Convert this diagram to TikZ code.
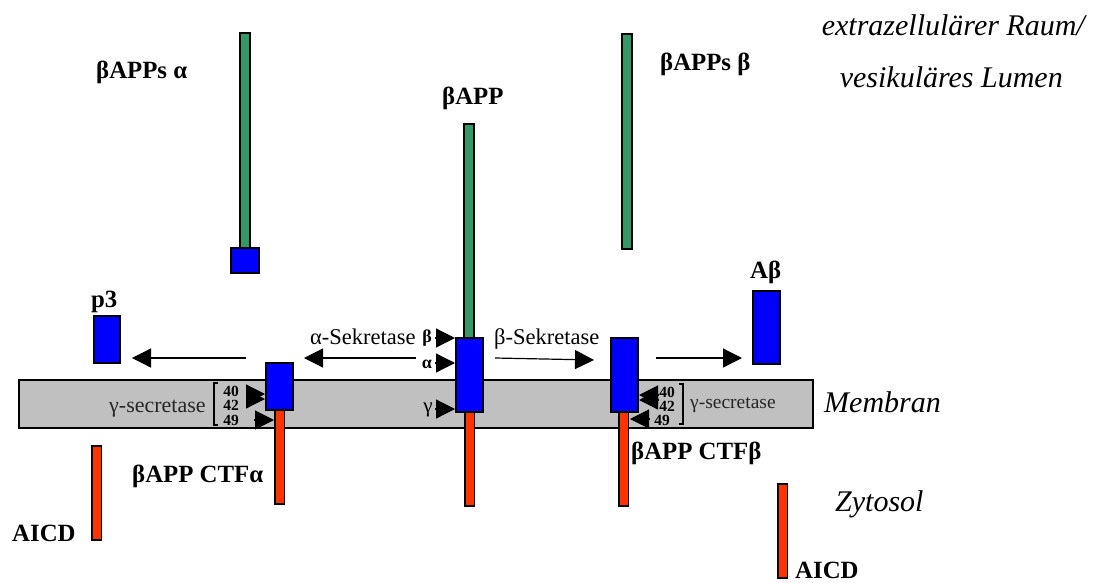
\documentclass[tikz,border=0pt]{standalone}
\usepackage{fontspec}
\setmainfont{Liberation Serif}
\usetikzlibrary{arrows.meta}
\definecolor{apgreen}{HTML}{339966}
\definecolor{apblue}{HTML}{0000FF}
\definecolor{apred}{HTML}{FF3300}
\definecolor{apgray}{HTML}{C0C0C0}
\tikzset{
  x=1pt,y=-1pt,
  barbox/.style={draw=black,line width=1.3pt,inner sep=0pt,outer sep=0pt,anchor=north west},
  greenbar/.style={barbox,fill=apgreen,minimum width=10pt},
  redbar/.style={barbox,fill=apred,minimum width=9.5pt},
  bluebox/.style={barbox,fill=apblue,minimum width=27pt},
  membrane/.style={draw=black,line width=1.5pt,fill=apgray,inner sep=0pt,outer sep=0pt,anchor=north west,minimum width=794pt,minimum height=48pt},
  bigarrow/.style={line width=1.2pt,-{Triangle[length=19pt,width=19pt]},shorten >=0pt},
  cutarrow/.style={line width=1.2pt,-{Triangle[length=19pt,width=19pt]}},
  bracketline/.style={line width=1.4pt},
  boldlabel/.style={font=\fontsize{24.8}{26}\selectfont\bfseries,inner sep=0pt},
  enzlabel/.style={font=\fontsize{22.5}{24}\selectfont,inner sep=0pt},
  gammalabel/.style={font=\fontsize{22}{24}\selectfont,text=black!85,inner sep=0pt},
  gammalabelr/.style={font=\fontsize{19.5}{22}\selectfont,text=black!85,inner sep=0pt},
  numlabel/.style={font=\fontsize{15.5}{17}\selectfont\bfseries,inner sep=0pt},
  itlabel/.style={font=\fontsize{30}{32}\selectfont\itshape,inner sep=0pt},
}
\begin{document}
\begin{tikzpicture}
\useasboundingbox (0,0) rectangle (1093,582);
\node[membrane] (mem) at (19,380) {};
% left column
\node[greenbar,minimum height=215pt] (gA) at (240,33) {};
\node[bluebox,minimum width=28pt,minimum height=25pt] (bA) at (231,248) {};
% centre
\node[greenbar,minimum height=214pt] (gC) at (464,124) {};
\node[redbar,minimum height=94pt] (rC) at (465,412) {};
\node[bluebox,minimum height=74pt] (bC) at (456,338) {};
% right
\node[greenbar,minimum height=215pt] (gB) at (622,34) {};
\node[redbar,minimum height=94pt] (rB) at (619,412) {};
\node[bluebox,minimum height=74pt] (bB) at (611,338) {};
% left CTF
\node[redbar,minimum height=94pt] (rL) at (275,410) {};
\node[bluebox,minimum height=47pt] (bL) at (266,363) {};
% products
\node[bluebox,minimum width=26pt,minimum height=47pt] (p3box) at (94,316) {};
\node[bluebox,minimum height=73pt] (abox) at (753,291) {};
\node[redbar,minimum height=94pt] (aicdL) at (92,446) {};
\node[redbar,minimum height=94pt] (aicdR) at (778,484) {};
% text labels
\node[boldlabel,anchor=base west] (t1) at (96,78) {βAPPs α};
\node[boldlabel,anchor=base west] (t2) at (660,70) {βAPPs β};
\node[boldlabel,anchor=base west] (t3) at (442,104) {βAPP};
\node[boldlabel,anchor=base west] (t4) at (750,278) {Aβ};
\node[boldlabel,anchor=base west] (t5) at (91,307) {p3};
\node[boldlabel,anchor=base west] (t6) at (132,482) {βAPP CTFα};
\node[boldlabel,anchor=base west] (t7) at (631,459) {βAPP CTFβ};
\node[boldlabel,anchor=base west] (t8) at (12,541) {AICD};
\node[boldlabel,anchor=base west] (t9) at (795,578) {AICD};
\node[enzlabel,anchor=base west] (t10) at (310,344) {α-Sekretase};
\node[enzlabel,anchor=base west] (t11) at (494,344) {β-Sekretase};
\node[gammalabel,anchor=base west] (t12) at (109,412) {γ-secretase};
\node[gammalabelr,anchor=base west] (t13) at (690,408) {γ-secretase};
\node[itlabel,anchor=base east] (t14) at (1085,35) {extrazellulärer Raum/};
\node[itlabel,anchor=base east] (t15) at (1063,87) {vesikuläres Lumen};
\node[itlabel,anchor=base west] (t16) at (824,412) {Membran};
\node[itlabel,anchor=base west] (t17) at (835,511) {Zytosol};
\node[boldlabel,font=\fontsize{18}{20}\selectfont\bfseries] (lb) at (427,338) {β};
\node[boldlabel,font=\fontsize{18}{20}\selectfont\bfseries] (la) at (427,364) {α};
\node[enzlabel,font=\fontsize{21}{22}\selectfont] (lg) at (428,410) {γ};
\node[numlabel] (n40l) at (231,391) {40};
\node[numlabel] (n42l) at (231,405) {42};
\node[numlabel] (n49l) at (231,420) {49};
\node[numlabel] (n40r) at (667,392) {40};
\node[numlabel] (n42r) at (667,406) {42};
\node[numlabel] (n49r) at (662,420) {49};
% brackets
\coordinate (bl1) at (218,383); \coordinate (bl2) at (214,383); \coordinate (bl3) at (214,425); \coordinate (bl4) at (218,425);
\draw[bracketline] (bl1) -- (bl2) -- (bl3) -- (bl4);
\coordinate (br1) at (679,384); \coordinate (br2) at (683,384); \coordinate (br3) at (683,424); \coordinate (br4) at (679,424);
\draw[bracketline] (br1) -- (br2) -- (br3) -- (br4);
% long arrows
\coordinate (a1s) at (246,358); \coordinate (a1e) at (132,358);
\draw[bigarrow] (a1s) -- (a1e);
\coordinate (a2s) at (416,358); \coordinate (a2e) at (304,358);
\draw[bigarrow] (a2s) -- (a2e);
\coordinate (a3s) at (495,358); \coordinate (a3e) at (594,360);
\draw[bigarrow] (a3s) -- (a3e);
\coordinate (a4s) at (656,358); \coordinate (a4e) at (742,358);
\draw[bigarrow] (a4s) -- (a4e);
% cleavage arrows
\coordinate (cb) at (435,338); \coordinate (cbe) at (455,338);
\draw[cutarrow] (cb) -- (cbe);
\coordinate (ca) at (435,363); \coordinate (cae) at (455,363);
\draw[cutarrow] (ca) -- (cae);
\coordinate (cg) at (435,409); \coordinate (cge) at (455,409);
\draw[cutarrow] (cg) -- (cge);
\coordinate (l40) at (246,394); \coordinate (l40e) at (265,394);
\draw[cutarrow] (l40) -- (l40e);
\coordinate (l42) at (246,399); \coordinate (l42e) at (265,399);
\draw[cutarrow] (l42) -- (l42e);
\coordinate (l49) at (254,420); \coordinate (l49e) at (274,420);
\draw[cutarrow] (l49) -- (l49e);
\coordinate (r40) at (658,395); \coordinate (r40e) at (639,395);
\draw[cutarrow] (r40) -- (r40e);
\coordinate (r42) at (658,400); \coordinate (r42e) at (639,400);
\draw[cutarrow] (r42) -- (r42e);
\coordinate (r49) at (649,419); \coordinate (r49e) at (630,419);
\draw[cutarrow] (r49) -- (r49e);
\end{tikzpicture}
\end{document}
